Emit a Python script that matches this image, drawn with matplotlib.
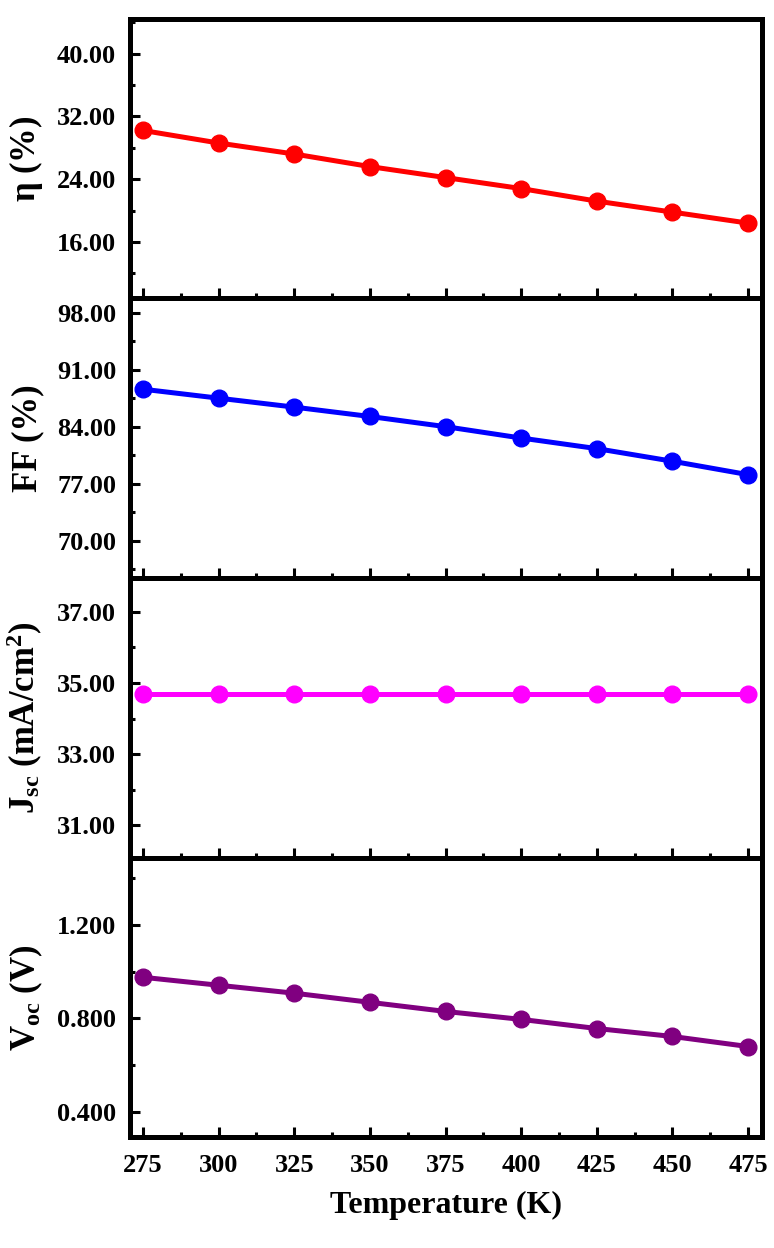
"""
Temperature dependence of solar cell parameters (eta, FF, Jsc, Voc).
Four stacked panels sharing the temperature axis.
"""

import numpy as np
import matplotlib
matplotlib.use("Agg")
import matplotlib.pyplot as plt
from matplotlib.ticker import MultipleLocator, FormatStrFormatter

plt.rcParams["font.family"] = ["Liberation Serif", "DejaVu Serif"]
plt.rcParams["font.weight"] = "bold"
plt.rcParams["mathtext.fontset"] = "custom"
plt.rcParams["mathtext.rm"] = "Liberation Serif:bold"
plt.rcParams["mathtext.it"] = "Liberation Serif:bold"
plt.rcParams["mathtext.bf"] = "Liberation Serif:bold"

# data
temperature = [275, 300, 325, 350, 375, 400, 425, 450, 475]
eta = [30.2, 28.6, 27.2, 25.6, 24.2, 22.8, 21.2, 19.8, 18.4]
ff = [88.6, 87.5, 86.4, 85.25, 84.0, 82.6, 81.3, 79.75, 78.1]
jsc = [34.7, 34.7, 34.7, 34.7, 34.7, 34.7, 34.7, 34.7, 34.7]
voc = [0.976, 0.942, 0.908, 0.869, 0.830, 0.796, 0.757, 0.723, 0.680]

panels = [
    # values, colour, ylabel, ylim, major step, minor step, tick offset, fmt
    (eta, "#ff0000", r"$\mathrm{\eta}$ (%)", (8.8, 44.4), 8, 4, 0, "%.2f"),
    (ff, "#0000ff", "FF (%)", (65.4, 99.75), 7, 3.5, 0, "%.2f"),
    (jsc, "#ff00ff", r"J$_{\mathrm{sc}}$ (mA/cm$^{\mathrm{2}}$)", (30.1, 37.95), 2, 1, 1, "%.2f"),
    (voc, "#800080", r"V$_{\mathrm{oc}}$ (V)", (0.293, 1.488), 0.4, 0.2, 0, "%.3f"),
]

fig = plt.figure(figsize=(7.74, 12.48), dpi=100)
gs = fig.add_gridspec(4, 1, left=0.168, right=0.9845, top=0.9848, bottom=0.0889, hspace=0)

for i, (vals, color, label, ylim, major, minor, off, fmt) in enumerate(panels):
    ax = fig.add_subplot(gs[i])
    ax.plot(temperature, vals, "-o", color=color, lw=3.6, ms=12, clip_on=False, zorder=3)

    ax.set_xlim(270.7, 479.6)
    ax.set_ylim(*ylim)
    ax.xaxis.set_major_locator(MultipleLocator(25))
    ax.xaxis.set_minor_locator(MultipleLocator(12.5))
    ax.yaxis.set_major_locator(MultipleLocator(major, offset=off))
    ax.yaxis.set_minor_locator(MultipleLocator(minor))
    ax.yaxis.set_major_formatter(FormatStrFormatter(fmt))

    for sp in ax.spines.values():
        sp.set_linewidth(3.6)
    ax.tick_params(which="both", direction="in", width=2.2, top=False, right=False,
                   labelsize=19)
    ax.tick_params(axis="y", pad=10)
    ax.tick_params(axis="x", pad=12)
    ax.tick_params(which="major", length=7)
    ax.tick_params(which="minor", length=3.6)
    for t in ax.get_yticklabels() + ax.get_xticklabels():
        t.set_fontweight("bold")

    ax.set_ylabel(label, fontsize=25, fontweight="bold")
    ax.yaxis.set_label_coords(-0.135, 0.5)

    if i < 3:
        ax.tick_params(axis="x", labelbottom=False)
    else:
        ax.set_xlabel("Temperature (K)", fontsize=23, fontweight="bold", labelpad=10)

fig.savefig("out.png", dpi=100)
